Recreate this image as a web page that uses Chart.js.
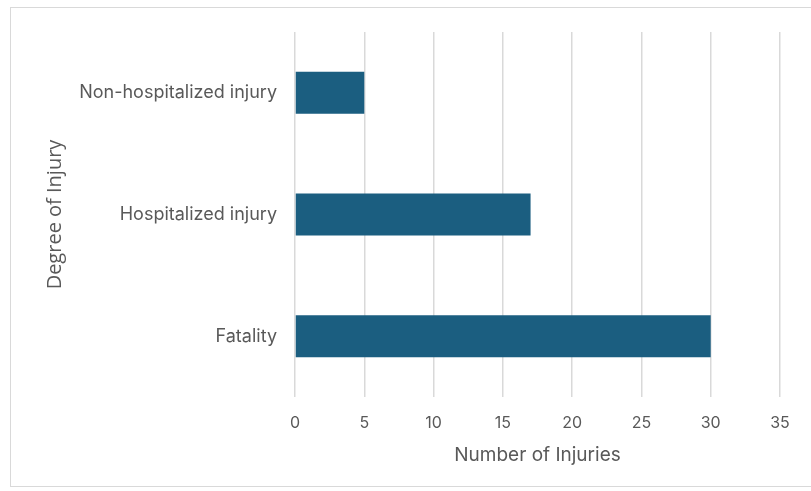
<!DOCTYPE html>
<html>
<head>
<meta charset="utf-8">
<script src="https://cdn.jsdelivr.net/npm/chart.js@4/dist/chart.umd.min.js"></script>
<style>
  html, body { margin: 0; padding: 0; background: #fff; }
  #wrap { position: relative; width: 811px; height: 491px; }
  #frame { position: absolute; left: 10px; top: 7px; width: 820px; height: 480px; border: 1px solid #d9d9d9; box-sizing: border-box; }
  canvas { position: absolute; left: 0; top: 0; }
</style>
</head>
<body>
<div id="wrap">
  <div id="frame"></div>
  <canvas id="chart" width="811" height="491"></canvas>
</div>
<script>
const categories = ['Non-hospitalized injury', 'Hospitalized injury', 'Fatality'];
const injuries = [5, 17, 30];
const xTicks = [0, 5, 10, 15, 20, 25, 30, 35];

const textColor = '#595959';
const gridColor = '#d9d9d9';

new Chart(document.getElementById('chart'), {
  type: 'bar',
  data: {
    labels: categories,
    datasets: [{
      label: 'Number of Injuries',
      data: injuries,
      backgroundColor: '#1b5e80',
      barPercentage: 0.69,
      categoryPercentage: 0.5
    }]
  },
  options: {
    indexAxis: 'y',
    responsive: false,
    animation: false,
    layout: { padding: { top: 32, right: 31, left: 0, bottom: 0 } },
    plugins: { legend: { display: false }, tooltip: { enabled: false } },
    scales: {
      x: {
        min: 0,
        max: 35,
        afterBuildTicks: s => { s.ticks = xTicks.map(v => ({ value: v })); },
        afterFit: s => { s.height = 94; },
        border: { display: false },
        grid: { color: gridColor, lineWidth: 1.5, drawTicks: false },
        ticks: { color: textColor, padding: 17, font: { family: 'Inter', size: 16 } },
        title: {
          display: true,
          text: 'Number of Injuries',
          color: textColor,
          font: { family: 'Inter', size: 19 },
          padding: { top: 8, bottom: 24 }
        }
      },
      y: {
        afterFit: s => { s.width = 295; },
        border: { display: false },
        grid: { display: false, drawTicks: false },
        ticks: { color: textColor, padding: 18, font: { family: 'Inter', size: 18 } },
        title: {
          display: true,
          text: 'Degree of Injury',
          color: textColor,
          font: { family: 'Open Sans', size: 20 },
          padding: { top: 43, bottom: 0 }
        }
      }
    }
  }
});
</script>
</body>
</html>
